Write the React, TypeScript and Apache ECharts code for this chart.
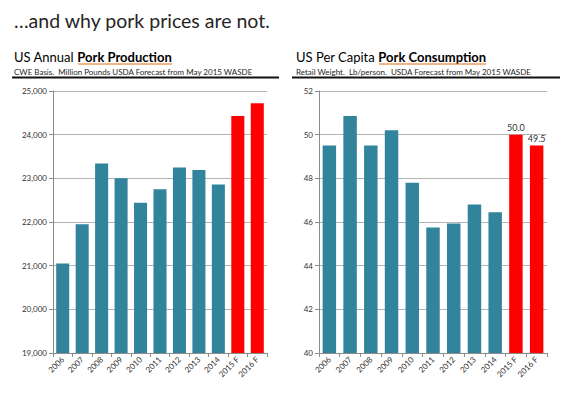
import React, { useEffect, useRef } from "react";
import * as echarts from "echarts";

const categories = ["2006", "2007", "2008", "2009", "2010", "2011", "2012", "2013", "2014", "2015 F", "2016 F"];
const productionValues = [21050, 21950, 23340, 23000, 22440, 22750, 23250, 23190, 22860, 24430, 24720];
const consumptionValues = [49.5, 50.85, 49.5, 50.2, 47.8, 45.75, 45.93, 46.8, 46.45, 50.0, 49.5];
const forecastFlags = [false, false, false, false, false, false, false, false, false, true, true];
const productionTicks = [19000, 20000, 21000, 22000, 23000, 24000, 25000];
const consumptionTicks = [40, 42, 44, 46, 48, 50, 52];

const TEAL = "#31849B";
const RED = "#FF0000";
const ORANGE = "#E46C0A";
const FONT = "Lato, 'Open Sans', sans-serif";

export default function App() {
  const ref = useRef<HTMLDivElement>(null);
  useEffect(() => {
    if (!ref.current) return;
    const chart = echarts.init(ref.current, undefined, { renderer: "svg" });
    const axisLine = { show: true, lineStyle: { color: "#8C8C8C", width: 1 } };
    const mkX = (gridIndex: number) => ({
      type: "category" as const,
      gridIndex,
      data: categories,
      axisLine,
      axisTick: { show: true, length: 4, lineStyle: { color: "#8C8C8C" } },
      axisLabel: { rotate: 45, fontSize: 8, color: "#333", fontFamily: FONT, margin: 5, interval: 0 },
    });
    const mkY = (gridIndex: number, ticks: number[], fmt: (v: number) => string) => ({
      type: "value" as const,
      gridIndex,
      min: ticks[0],
      max: ticks[ticks.length - 1],
      interval: ticks[1] - ticks[0],
      axisLine,
      axisTick: { show: true, length: 4, lineStyle: { color: "#8C8C8C" } },
      splitLine: { show: true, lineStyle: { color: "#B4B4B4", width: 1 } },
      axisLabel: { fontSize: 8, color: "#333", fontFamily: FONT, margin: 6, formatter: fmt },
    });
    const mkData = (vals: number[], labels: boolean) =>
      vals.map((v, i) => ({
        value: v,
        itemStyle: { color: forecastFlags[i] ? RED : TEAL },
        label: labels && forecastFlags[i]
          ? { show: true, position: "top", fontSize: 9, color: "#333", fontFamily: FONT, distance: 3, formatter: (p: any) => Number(p.value).toFixed(1) }
          : { show: false },
      }));
    const sub = (x: number, a: string, b: string) => ({
      type: "text", x, y: 57,
      style: {
        text: `{a|${a} }{b|${b}}`,
        fontFamily: FONT,
        verticalAlign: "middle",
        rich: {
          a: { fontSize: 13, fontFamily: FONT, color: "#262626" },
          b: { fontSize: 13, fontFamily: FONT, color: ORANGE, fontWeight: "bold" },
        },
      },
    });

    chart.setOption({
      animation: false,
      backgroundColor: "#fff",
      grid: [
        { left: 53, right: 295, top: 91, bottom: 42, containLabel: false },
        { left: 319, right: 15, top: 91, bottom: 42, containLabel: false },
      ],
      xAxis: [mkX(0), mkX(1)],
      yAxis: [
        mkY(0, productionTicks, (v: number) => v.toLocaleString("en-US")),
        mkY(1, consumptionTicks, (v: number) => String(v)),
      ],
      series: [
        { type: "bar", xAxisIndex: 0, yAxisIndex: 0, data: mkData(productionValues, false), barCategoryGap: "33%" },
        { type: "bar", xAxisIndex: 1, yAxisIndex: 1, data: mkData(consumptionValues, true), barCategoryGap: "35%" },
      ],
      graphic: [
        { type: "text", x: 14, y: 20, style: { text: "…and why pork prices are not.", fontSize: 19.5, fontFamily: FONT, fill: "#262626", verticalAlign: "middle" } },
        sub(14, "US Annual", "Pork Production"),
        { type: "line", shape: { x1: 78, y1: 64, x2: 172, y2: 64 }, style: { stroke: ORANGE, lineWidth: 1 } },
        { type: "text", x: 14, y: 72, style: { text: "CWE Basis.  Million Pounds USDA Forecast from May 2015 WASDE", fontSize: 8, fontFamily: FONT, fill: "#262626", verticalAlign: "middle" } },
        { type: "line", shape: { x1: 12, y1: 77.5, x2: 279, y2: 77.5 }, style: { stroke: "#111", lineWidth: 2 } },
        sub(296, "US Per Capita", "Pork Consumption"),
        { type: "line", shape: { x1: 379, y1: 64, x2: 486, y2: 64 }, style: { stroke: ORANGE, lineWidth: 1 } },
        { type: "text", x: 296, y: 72, style: { text: "Retail Weight.  Lb/person.  USDA Forecast from May 2015 WASDE", fontSize: 8, fontFamily: FONT, fill: "#262626", verticalAlign: "middle" } },
        { type: "line", shape: { x1: 292, y1: 77.5, x2: 560, y2: 77.5 }, style: { stroke: "#111", lineWidth: 2 } },
      ],
    });
    return () => chart.dispose();
  }, []);
  return <div ref={ref} style={{ width: 562, height: 395, position: "absolute", left: 0, top: 0 }} />;
}
